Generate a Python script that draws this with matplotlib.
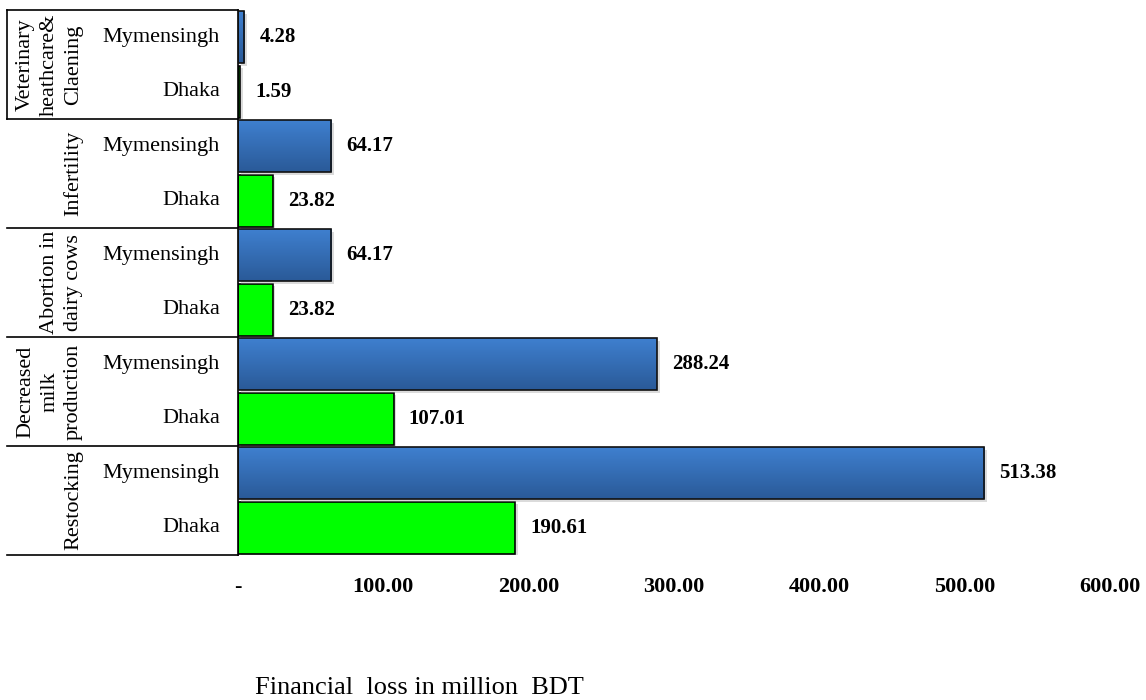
import numpy as np
import matplotlib
matplotlib.use("Agg")
import matplotlib.pyplot as plt
import matplotlib.patheffects as pe
from matplotlib.colors import LinearSegmentedColormap
from matplotlib.transforms import blended_transform_factory

plt.rcParams['font.family'] = ['Liberation Serif', 'DejaVu Serif']

# ── data (bottom group first) ────────────────────────────────────────────────
categories = ['Restocking', 'Decreased\nmilk\nproduction', 'Abortion in\ndairy cows',
              'Infertility', 'Veterinary\nheathcare&\nClaening']
mymensingh = [513.38, 288.24, 64.17, 64.17, 4.28]
dhaka      = [190.61, 107.01, 23.82, 23.82, 1.59]
regions    = ['Dhaka', 'Mymensingh']
xticks      = [0, 100, 200, 300, 400, 500, 600]
xtick_labels = ['-', '100.00', '200.00', '300.00', '400.00', '500.00', '600.00']

BLUE_TOP, BLUE_BOT = '#3f80d0', '#2a5a98'
GREEN = '#00ff00'

fig = plt.figure(figsize=(11.46, 7.0), dpi=100)
ax = fig.add_axes([238 / 1146, 145 / 700, 872 / 1146, 545 / 700])

n = len(categories)
y_dhaka = np.arange(n) * 2
y_mym = y_dhaka + 1
h = 0.96

shadow = [pe.SimplePatchShadow(offset=(2, -2), shadow_rgbFace='#999999', alpha=0.35),
          pe.Normal()]

ax.barh(y_dhaka, dhaka, height=h, color=GREEN, edgecolor='black', lw=1.2,
        zorder=2, path_effects=shadow)
bars_m = ax.barh(y_mym, mymensingh, height=h, color=BLUE_TOP, edgecolor='none',
                 zorder=2, path_effects=shadow)

# vertical gradient on the blue bars
cmap = LinearSegmentedColormap.from_list('bl', [BLUE_BOT, BLUE_TOP])
grad = np.linspace(0, 1, 64).reshape(-1, 1)
for b, y, v in zip(bars_m, y_mym, mymensingh):
    im = ax.imshow(grad, extent=[0, v, y - h / 2, y + h / 2], origin='lower',
                   aspect='auto', cmap=cmap, zorder=2.5)
    im.set_clip_path(b)
ax.barh(y_mym, mymensingh, height=h, fill=False, edgecolor='#111111', lw=1.2, zorder=3)

# value labels
for y, v in list(zip(y_dhaka, dhaka)) + list(zip(y_mym, mymensingh)):
    ax.annotate(f'{v:.2f}', (v, y), xytext=(11, 0), textcoords='offset points',
                ha='left', va='center', fontsize=15, fontweight='bold')

ax.set_xlim(0, 600)
ax.set_ylim(-0.5, 2 * n - 0.5)
ax.set_xticks(xticks)
ax.set_xticklabels(xtick_labels, fontsize=16, fontweight='bold')
ax.set_yticks([])
ax.tick_params(axis='x', length=0, pad=16)
for s in ['top', 'right', 'bottom']:
    ax.spines[s].set_visible(False)
ax.spines['left'].set_linewidth(1.2)

# left-hand category table
tr = blended_transform_factory(ax.transAxes, ax.transData)
x_left = -231 / 872
for yb in np.arange(-0.5, 2 * n, 2):
    ax.plot([x_left, 0], [yb, yb], color='black', lw=1.2, transform=tr, clip_on=False)
ax.plot([x_left, x_left], [2 * n - 2.5, 2 * n - 0.5], color='black', lw=1.2,
        transform=tr, clip_on=False)

for i, cat in enumerate(categories):
    ax.text(-155 / 872, 2 * i + 0.5, cat, transform=tr, rotation=90, ha='right',
            va='center', multialignment='center', fontsize=16, linespacing=1.35)
    ax.text(-18 / 872, y_dhaka[i], regions[0], transform=tr, ha='right',
            va='center', fontsize=16)
    ax.text(-18 / 872, y_mym[i], regions[1], transform=tr, ha='right',
            va='center', fontsize=16)

fig.text(255 / 1146, 1 - 688 / 700, 'Financial  loss in million  BDT',
         ha='left', va='center', fontsize=19)

fig.savefig('out.png', dpi=100)
